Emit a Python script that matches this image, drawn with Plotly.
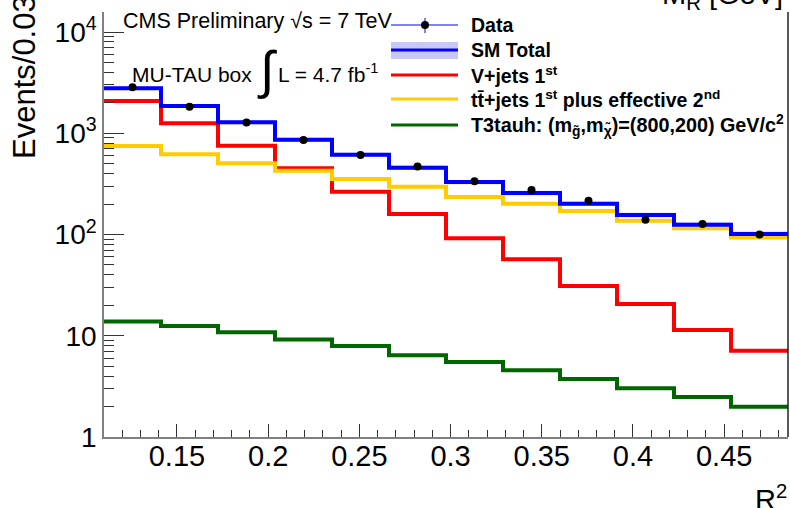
import plotly.graph_objects as go

# R^2 binning (12 bins of width 0.03125)
r2_edges = [0.11, 0.14125, 0.1725, 0.20375, 0.235, 0.26625, 0.2975,
            0.32875, 0.36, 0.39125, 0.4225, 0.45375, 0.485]

# Events per bin
data_events = [2840, 1830, 1280, 860, 610, 470, 335, 275, 215, 140, 127, 100]
sm_total = [2780, 1860, 1283, 863, 614, 457, 330, 257, 201, 156, 125, 101]
sm_unc = [110, 75, 55, 38, 28, 22, 16, 13, 10, 8, 7, 6]
vjets_1st = [2080, 1254, 753, 451, 265, 159, 92, 57, 31, 20.6, 11.4, 7.1]
ttjets_1st_2nd = [748, 620, 505, 427, 353, 297, 235, 201, 171, 137, 115, 93.6]
t3tauh_signal = [13.8, 12.5, 10.8, 9.2, 7.9, 6.4, 5.5, 4.56, 3.74, 3.03, 2.48, 1.99]

x_tick_vals = [0.15, 0.2, 0.25, 0.3, 0.35, 0.4, 0.45]
x_tick_text = ["0.15", "0.2", "0.25", "0.3", "0.35", "0.4", "0.45"]
y_tick_vals = [1, 10, 100, 1000, 10000]
y_tick_text = ["1", "10", "10<sup>2</sup>", "10<sup>3</sup>", "10<sup>4</sup>"]

FONT = "Liberation Sans"
BLUE = "#0000ff"
RED = "#ff0000"
GOLD = "#ffcc00"
GREEN = "#006600"
BAND = "rgba(120,120,245,0.35)"


def step_y(vals):
    # repeat the last bin so the 'hv' step reaches the final edge
    return list(vals) + [vals[-1]]


centers = [(a + b) / 2 for a, b in zip(r2_edges[:-1], r2_edges[1:])]
sm_lo = [v - e for v, e in zip(sm_total, sm_unc)]
sm_hi = [v + e for v, e in zip(sm_total, sm_unc)]

fig = go.Figure()

# SM uncertainty band
fig.add_trace(go.Scatter(x=r2_edges, y=step_y(sm_lo), mode="lines",
                         line=dict(width=0, shape="hv"), hoverinfo="skip",
                         showlegend=False))
fig.add_trace(go.Scatter(x=r2_edges, y=step_y(sm_hi), mode="lines",
                         line=dict(width=0, shape="hv"), fill="tonexty",
                         fillcolor=BAND, hoverinfo="skip", showlegend=False))

for vals, color in [(vjets_1st, RED), (ttjets_1st_2nd, GOLD),
                    (t3tauh_signal, GREEN), (sm_total, BLUE)]:
    fig.add_trace(go.Scatter(x=r2_edges, y=step_y(vals), mode="lines",
                             line=dict(color=color, width=4, shape="hv"),
                             showlegend=False))

fig.add_trace(go.Scatter(x=centers, y=data_events, mode="markers",
                         marker=dict(color="black", size=8),
                         showlegend=False))

W, H = 790, 508
ML, MR, MT, MB = 104, 2, 12, 71
PW, PH = W - ML - MR, H - MT - MB


def px(x):
    return (x - ML) / PW


def py(y):
    return (H - MB - y) / PH


annotations = []


def text(s, x, y, size, xanchor="left", yanchor="middle", bold=False, angle=0):
    if bold:
        s = "<b>" + s + "</b>"
    annotations.append(dict(text=s, x=px(x), y=py(y), xref="paper", yref="paper",
                            xanchor=xanchor, yanchor=yanchor, showarrow=False,
                            textangle=angle,
                            font=dict(family=FONT, size=size, color="black")))


# header texts
text("CMS Preliminary √s = 7 TeV", 121, 21, 21.5)
text("MU-TAU box", 130, 75, 21)
text("∫", 267, 70, 52, xanchor="center", yanchor="middle")
text("L = 4.7 fb<sup>-1</sup>", 276, 73, 21)

# axis titles
text("Events/0.03", 24, 161, 31, xanchor="center", yanchor="bottom", angle=-90)
text("R<sup>2</sup>", 789, 478, 29, xanchor="right", yanchor="top")
text("M<sub>R</sub> [GeV]", 785, -24, 29, xanchor="right", yanchor="top")

# legend
lx0, lx1, ltx = 391, 458, 469
rows = [25, 50, 75, 99, 125]
labels = ["Data", "SM Total", "V+jets 1<sup>st</sup>",
          "tt\u0304+jets 1<sup>st</sup> plus effective 2<sup>nd</sup>",
          "T3tauh: (m<sub>g\u0303</sub>,m<sub>χ\u0303</sub>)=(800,200) GeV/c<sup>2</sup>"]
sizes = [19.5, 19.5, 19.5, 19.5, 19.8]
for r, lab, sz in zip(rows, labels, sizes):
    text(lab, ltx, r, sz, bold=True)

shapes = []


def hline(y, color, width, x0=lx0, x1=lx1):
    shapes.append(dict(type="line", xref="paper", yref="paper",
                       x0=px(x0), x1=px(x1), y0=py(y), y1=py(y),
                       line=dict(color=color, width=width)))


hline(rows[0], BLUE, 1)
shapes.append(dict(type="line", xref="paper", yref="paper",
                   x0=px(425), x1=px(425), y0=py(18), y1=py(33),
                   line=dict(color=BLUE, width=1)))
shapes.append(dict(type="circle", xref="paper", yref="paper",
                   xsizemode="pixel", ysizemode="pixel",
                   xanchor=px(425), yanchor=py(rows[0]),
                   x0=-4, x1=4, y0=-4, y1=4,
                   fillcolor="black", line=dict(color="black", width=0)))
shapes.append(dict(type="rect", xref="paper", yref="paper",
                   x0=px(lx0), x1=px(lx1), y0=py(59), y1=py(42),
                   fillcolor="#c8c8f8", line=dict(width=0)))
hline(rows[1], BLUE, 3)
hline(rows[2], RED, 3)
hline(rows[3], GOLD, 3)
hline(rows[4], GREEN, 3)

# right frame edge
shapes.append(dict(type="line", xref="paper", yref="paper", x0=1, x1=1,
                   y0=0, y1=1, line=dict(color="#222222", width=1.5)))

minor_x = [round(0.12 + 0.01 * i, 2) for i in range(37)]
minor_x = [v for v in minor_x if round(v * 100) % 5 != 0]
minor_y = [d * 10 ** k for k in range(5) for d in range(2, 10) if d * 10 ** k < 16000]

fig.update_layout(
    width=W, height=H,
    margin=dict(l=ML, r=MR, t=MT, b=MB, pad=0),
    paper_bgcolor="white", plot_bgcolor="white",
    showlegend=False,
    annotations=annotations, shapes=shapes,
    xaxis=dict(range=[0.11, 0.485], showgrid=False, zeroline=False,
               showline=True, linecolor="#808080", linewidth=1.5,
               ticks="inside", ticklen=13, tickwidth=1.3, tickcolor="#333333",
               tickvals=x_tick_vals, ticktext=x_tick_text, ticklabelstandoff=-8,
               tickfont=dict(family=FONT, size=29, color="black"),
               minor=dict(ticks="inside", ticklen=7, tickwidth=1.2,
                          tickcolor="#333333", tickvals=minor_x, showgrid=False)),
    yaxis=dict(type="log", range=[0, 4.1975], showgrid=False, zeroline=False,
               showline=True, linecolor="#808080", linewidth=1.5,
               ticks="inside", ticklen=20, tickwidth=1.3, tickcolor="#333333",
               tickvals=y_tick_vals, ticktext=y_tick_text,
               tickfont=dict(family=FONT, size=28, color="black"),
               minor=dict(ticks="inside", ticklen=10, tickwidth=1.2,
                          tickcolor="#333333", tickvals=minor_y, showgrid=False)),
)

fig.write_html("out.html")
